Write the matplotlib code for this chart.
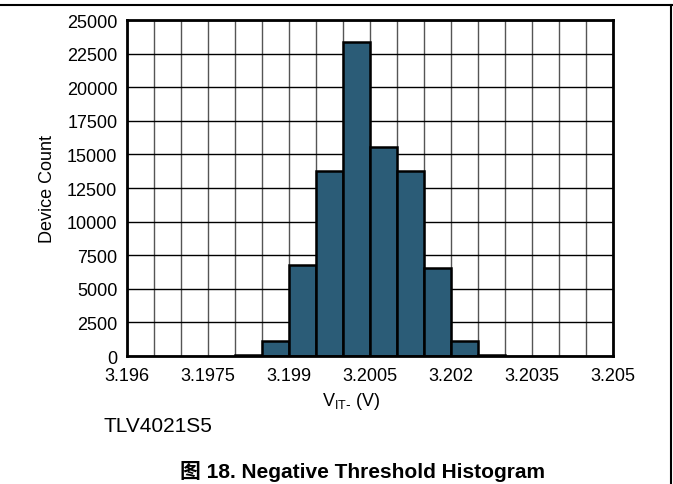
import matplotlib
matplotlib.use('Agg')
from matplotlib import pyplot as plt
from matplotlib.lines import Line2D
import numpy as np

plt.rcParams.update({'font.size': 13, 'font.family': ['Liberation Sans', 'Noto Sans CJK SC']})

# histogram bins (left edges, V) and counts
bin_left = [3.198, 3.1985, 3.199, 3.1995, 3.2, 3.2005, 3.201, 3.2015, 3.202, 3.2025]
counts   = [40,    1150,   6800,  13750,  23330, 15520, 13750, 6550,   1100,  40]
bin_width = 0.0005

xticks = [3.196, 3.1975, 3.199, 3.2005, 3.202, 3.2035, 3.205]
xtick_labels = ['3.196', '3.1975', '3.199', '3.2005', '3.202', '3.2035', '3.205']
yticks = list(range(0, 25001, 2500))

fig = plt.figure(figsize=(6.73, 4.85), dpi=100)
ax = fig.add_axes([127/673, 1 - 357/485, 486/673, 336/485])

# grid
for x in np.arange(3.196, 3.20501, 0.0005):
  ax.axvline(x, color='#555555', lw=1.0, zorder=1)
for y in yticks:
  ax.axhline(y, color='black', lw=1.0, zorder=1)

ax.bar(bin_left, counts, width=bin_width, align='edge',
       color='#2b5c77', edgecolor='black', linewidth=1.8, zorder=3)

ax.set_xlim(3.196, 3.205)
ax.set_ylim(0, 25000)
ax.set_xticks(xticks)
ax.set_xticklabels(xtick_labels)
ax.set_yticks(yticks)
ax.tick_params(axis='x', length=0, pad=8)
ax.tick_params(axis='y', length=0, pad=7)
for s in ax.spines.values():
  s.set_linewidth(2)
  s.set_zorder(5)

ax.set_ylabel('Device Count', fontsize=13, labelpad=8)
ax.set_xlabel(r'V$_{\mathregular{IT\text{-}}}$ (V)', fontsize=13)
ax.xaxis.set_label_coords((351 - 127) / 486, (357 - 391) / 336)

fig.text(103/673, 1 - 427/485, 'TLV4021S5', fontsize=15, va='center', ha='left')
fig.text(363/673, 1 - 472/485, '图 18. Negative Threshold Histogram', fontsize=15,
         fontweight='bold', va='center', ha='center')

# page frame lines
fig.add_artist(Line2D([0, 1], [1 - 6/485, 1 - 6/485], color='black', lw=1.5, transform=fig.transFigure))
fig.add_artist(Line2D([670.5/673, 670.5/673], [0, 1 - 6/485], color='black', lw=1.5, transform=fig.transFigure))

fig.savefig('out.png')
